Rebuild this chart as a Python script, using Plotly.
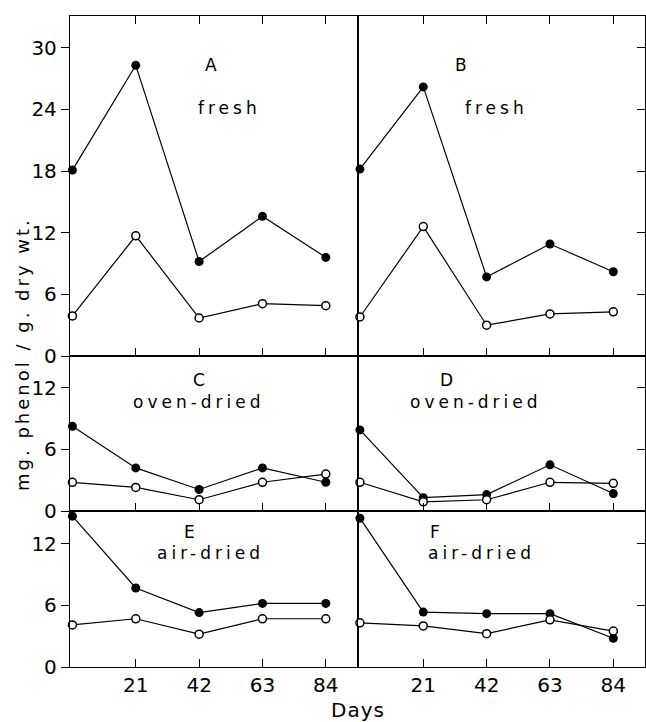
import plotly.graph_objects as go
from plotly.subplots import make_subplots

days = [0, 21, 42, 63, 84]

# filled circles (solid) and open circles per panel
A_filled = [18.1, 28.3, 9.2, 13.6, 9.6]
A_open = [3.9, 11.7, 3.7, 5.1, 4.9]
B_filled = [18.2, 26.2, 7.7, 10.9, 8.2]
B_open = [3.8, 12.6, 3.0, 4.1, 4.3]
C_filled = [8.25, 4.2, 2.1, 4.2, 2.8]
C_open = [2.8, 2.3, 1.1, 2.8, 3.6]
D_filled = [7.9, 1.3, 1.6, 4.5, 1.7]
D_open = [2.8, 0.9, 1.1, 2.8, 2.7]
E_filled = [14.7, 7.7, 5.3, 6.2, 6.2]
E_open = [4.1, 4.7, 3.2, 4.7, 4.7]
F_filled = [14.5, 5.35, 5.2, 5.2, 2.8]
F_open = [4.3, 4.0, 3.25, 4.6, 3.5]

x_ticks = [21, 42, 63, 84]
top_yticks = [0, 6, 12, 18, 24, 30]
low_yticks = [0, 6, 12]

panel_letters = ["A", "B", "C", "D", "E", "F"]
panel_labels = ["fresh", "fresh", "oven-dried", "oven-dried", "air-dried", "air-dried"]

FONT = "DejaVu Sans"


def spaced(t, px):
    return '<span style="letter-spacing:%spx">%s</span>' % (px, t)


fig = make_subplots(rows=3, cols=2, row_heights=[0.5223, 0.2381, 0.2396],
                    horizontal_spacing=0, vertical_spacing=0)

panels = [(1, 1, A_filled, A_open), (1, 2, B_filled, B_open),
          (2, 1, C_filled, C_open), (2, 2, D_filled, D_open),
          (3, 1, E_filled, E_open), (3, 2, F_filled, F_open)]

for r, c, fv, ov in panels:
    fig.add_trace(go.Scatter(x=days, y=fv, mode="lines+markers",
                             line=dict(color="black", width=1.2),
                             marker=dict(symbol="circle", size=9, color="black"),
                             showlegend=False, cliponaxis=False), row=r, col=c)
    fig.add_trace(go.Scatter(x=days, y=ov, mode="lines+markers",
                             line=dict(color="black", width=1.2),
                             marker=dict(symbol="circle", size=8, color="white",
                                         line=dict(color="black", width=1.5)),
                             showlegend=False, cliponaxis=False), row=r, col=c)

yranges = {1: [0, 33.1], 2: [0, 15.1], 3: [0, 15.2]}
for r in (1, 2, 3):
    for c in (1, 2):
        fig.update_xaxes(row=r, col=c, range=[-0.8, 94.5], tickvals=x_ticks,
                         ticks="inside", ticklen=8, tickcolor="black", tickwidth=1.2,
                         showline=True, linecolor="black", linewidth=1.3,
                         mirror="ticks" if r == 1 else True,
                         showgrid=False, zeroline=False, automargin=False,
                         showticklabels=(r == 3),
                         tickfont=dict(family=FONT, size=20, color="black"))
        fig.update_yaxes(row=r, col=c, range=yranges[r],
                         tickvals=top_yticks if r == 1 else low_yticks,
                         showline=True, linecolor="black", linewidth=1.3,
                         mirror=True, showgrid=False, zeroline=False, automargin=False,
                         ticks="outside" if c == 1 else "inside",
                         side="left" if c == 1 else "right",
                         ticklen=8, tickcolor="black", tickwidth=1.2,
                         showticklabels=(c == 1),
                         tickfont=dict(family=FONT, size=20, color="black"))

# panel annotations (data coords)
letter_pos = {"A": (45.9, 28.3), "B": (33.4, 28.3), "C": (41.9, 12.8),
              "D": (28.7, 12.8), "E": (38.9, 13.2), "F": (24.8, 13.2)}
label_pos = {"A": (52.1, 24.1), "B": (45.3, 24.1), "C": (41.9, 10.6),
             "D": (38.6, 10.6), "E": (45.9, 11.1), "F": (40.3, 11.1)}
axis_names = ["", "2", "3", "4", "5", "6"]
for i, (let, lab) in enumerate(zip(panel_letters, panel_labels)):
    xr = "x" + axis_names[i]
    yr = "y" + axis_names[i]
    lx, ly = letter_pos[let]
    fig.add_annotation(x=lx, y=ly, xref=xr, yref=yr, text=let, showarrow=False,
                       font=dict(family=FONT, size=17, color="black"))
    tx, ty = label_pos[let]
    fig.add_annotation(x=tx, y=ty, xref=xr, yref=yr, text=spaced(lab, 4),
                       showarrow=False,
                       font=dict(family=FONT, size=17, color="black"))

fig.add_annotation(x=0, y=(667 - 354) / 651.0, xref="paper", yref="paper", xshift=-48,
                   text=spaced("mg. phenol / g. dry wt.", 3), textangle=-90,
                   showarrow=False, xanchor="center", yanchor="middle",
                   font=dict(family=FONT, size=18, color="black"))
fig.add_annotation(x=0.5, y=-0.066, xref="paper", yref="paper",
                   text=spaced("Days", 1), showarrow=False, yanchor="middle",
                   font=dict(family=FONT, size=20, color="black"))

fig.update_layout(width=646, height=722, plot_bgcolor="white", paper_bgcolor="white",
                  margin=dict(l=70, r=1, t=16, b=55, autoexpand=False))
fig.write_html("out.html", config={"displayModeBar": False},
               post_script="document.body.style.margin='0';")
